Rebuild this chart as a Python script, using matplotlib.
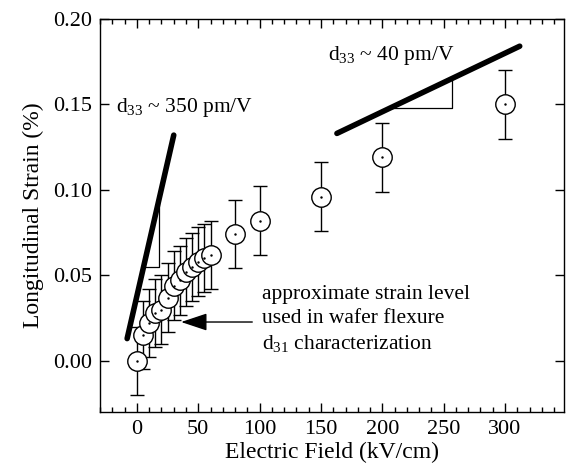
import matplotlib
matplotlib.use("Agg")
import matplotlib.pyplot as plt
from matplotlib.ticker import MultipleLocator, FormatStrFormatter

plt.rcParams['font.family'] = ['Liberation Serif', 'DejaVu Serif']
plt.rcParams['mathtext.fontset'] = 'custom'
plt.rcParams['mathtext.rm'] = 'Liberation Serif'
plt.rcParams['mathtext.it'] = 'Liberation Serif:italic'

# measured strain vs field
field = [0, 5, 10, 15, 20, 25, 30, 35, 40, 45, 50, 55, 60, 80, 100, 150, 200, 300]
strain = [0.000, 0.015, 0.022, 0.028, 0.030, 0.037, 0.044, 0.047, 0.052, 0.055,
          0.058, 0.060, 0.062, 0.074, 0.082, 0.096, 0.119, 0.150]
strain_err = [0.02] * len(field)

# slope guide lines
fit_low_x = [-8, 30]
fit_low_y = [0.013, 0.132]
fit_high_x = [163, 312]
fit_high_y = [0.133, 0.184]

fig = plt.figure(figsize=(5.69, 4.71), dpi=100)
ax = fig.add_axes([0.176, 0.125, 0.815, 0.835])

ax.errorbar(field, strain, yerr=strain_err, fmt='none', ecolor='black',
            elinewidth=1.0, capsize=5, capthick=1.0, zorder=2)

# slope triangles
ax.plot([6.0, 18, 18], [0.055, 0.055, 0.094], color='black', lw=0.9, zorder=2)
ax.plot([206, 257, 257], [0.148, 0.148, 0.165], color='black', lw=0.9, zorder=2)

ax.plot(fit_low_x, fit_low_y, color='black', lw=4, solid_capstyle='round', zorder=3)
ax.plot(fit_high_x, fit_high_y, color='black', lw=4, solid_capstyle='round', zorder=3)

for xi, yi in zip(field, strain):
    ax.plot(xi, yi, 'o', ms=14, mfc='white', mec='black', mew=1.0, zorder=4)
    ax.plot(xi, yi, '.', ms=1.5, color='black', zorder=5)

txt = 15.5
ax.text(-17, 0.148, r'd$_{33}$ ~ 350 pm/V', fontsize=txt, va='center', ha='left')
ax.text(156, 0.1786, r'd$_{33}$ ~ 40 pm/V', fontsize=txt, va='center', ha='left')

ax.annotate('', xy=(36, 0.0227), xytext=(94, 0.0227),
            arrowprops=dict(arrowstyle='-|>,head_length=0.9,head_width=0.3', color='black',
                            lw=1.0, mutation_scale=18, shrinkA=0, shrinkB=0))
ax.text(102, 0.0385, 'approximate strain level', fontsize=txt, va='center')
ax.text(102, 0.0245, 'used in wafer flexure', fontsize=txt, va='center')
ax.text(102, 0.0100, r'd$_{31}$ characterization', fontsize=txt, va='center')

ax.set_xlim(-30, 348)
ax.set_ylim(-0.03, 0.20)
ax.xaxis.set_major_locator(MultipleLocator(50))
ax.xaxis.set_minor_locator(MultipleLocator(10))
ax.yaxis.set_major_locator(MultipleLocator(0.05))
ax.yaxis.set_major_formatter(FormatStrFormatter('%.2f'))
ax.tick_params(which='both', direction='in', top=True, right=True, labelsize=16, width=1.0)
ax.tick_params(which='major', length=6.5, pad=6)
ax.tick_params(which='minor', length=3.5)
for s in ax.spines.values():
    s.set_linewidth(1.0)

ax.set_xlabel('Electric Field (kV/cm)', fontsize=17, labelpad=2)
ax.set_ylabel('Longitudinal Strain (%)', fontsize=17, labelpad=6)

fig.savefig('out.png', dpi=100)
